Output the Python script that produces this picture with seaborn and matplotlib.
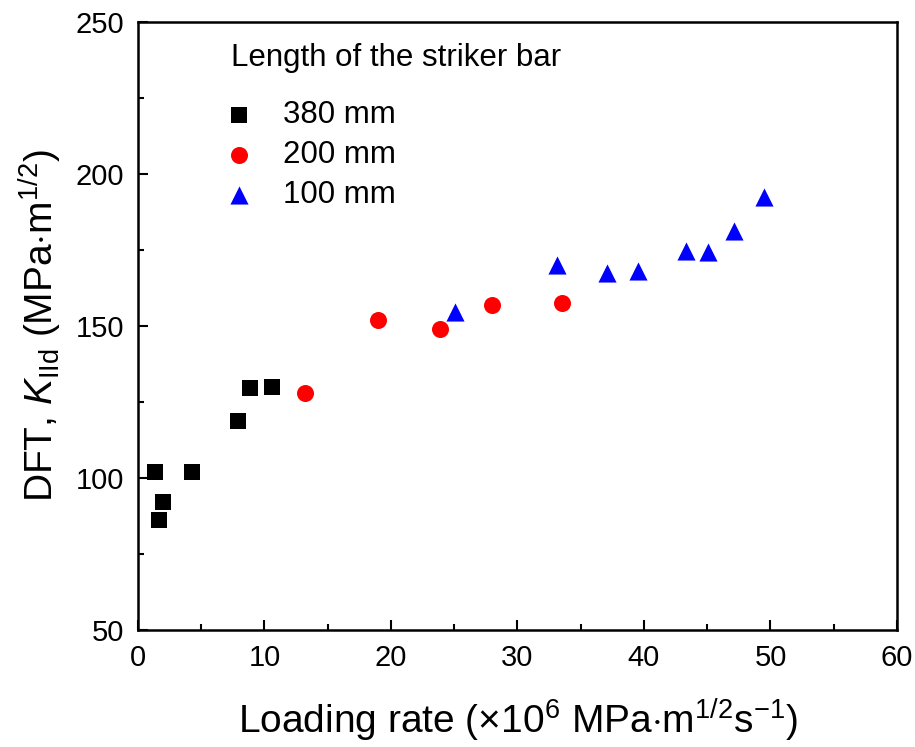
import matplotlib
matplotlib.use("Agg")
import matplotlib.pyplot as plt
from matplotlib.ticker import MultipleLocator
import seaborn as sns
import pandas as pd

# Data
x_380 = [1.35, 1.7, 2.0, 4.3, 7.9, 8.85, 10.6]
y_380 = [102.1, 86.2, 92.2, 102.1, 118.9, 129.6, 130.0]
x_200 = [13.2, 19.0, 23.9, 28.0, 33.5]
y_200 = [127.9, 151.9, 148.9, 156.8, 157.5]
x_100 = [25.1, 33.1, 37.1, 39.55, 43.3, 45.1, 47.1, 49.5]
y_100 = [154.5, 170.0, 167.3, 168.2, 174.8, 174.2, 181.2, 192.5]
labels = ["380 mm", "200 mm", "100 mm"]
legend_title = "Length of the striker bar"

df = pd.DataFrame({
    "x": x_380 + x_200 + x_100,
    "y": y_380 + y_200 + y_100,
    "group": [labels[0]] * len(x_380) + [labels[1]] * len(x_200) + [labels[2]] * len(x_100),
})

sns.set_theme(style="white")
plt.rcParams["font.family"] = ["Liberation Sans", "DejaVu Sans"]
plt.rcParams["mathtext.fontset"] = "custom"
plt.rcParams["mathtext.rm"] = "Liberation Sans"
plt.rcParams["mathtext.it"] = "Liberation Sans:italic"
plt.rcParams["mathtext.bf"] = "Liberation Sans:bold"
plt.rcParams["text.color"] = "black"
plt.rcParams["axes.labelcolor"] = "black"
plt.rcParams["xtick.color"] = "black"
plt.rcParams["ytick.color"] = "black"

fig = plt.figure(figsize=(9.15, 7.47), dpi=100)
ax = fig.add_axes([0.1508, 0.1566, 0.8295, 0.8139])

palette = {labels[0]: "#000000", labels[1]: "#ff0000", labels[2]: "#0000ff"}
markers = {labels[0]: "s", labels[1]: "o", labels[2]: "^"}
sizes_map = {labels[0]: 130, labels[1]: 150, labels[2]: 170}

for lab in labels:
    sub = df[df["group"] == lab]
    sns.scatterplot(data=sub, x="x", y="y", color=palette[lab], marker=markers[lab],
                    s=sizes_map[lab], linewidth=0, ax=ax, label=lab, zorder=3)

ax.set_xlim(0, 60)
ax.set_ylim(50, 250)
ax.xaxis.set_major_locator(MultipleLocator(10))
ax.xaxis.set_minor_locator(MultipleLocator(5))
ax.yaxis.set_major_locator(MultipleLocator(50))
ax.yaxis.set_minor_locator(MultipleLocator(25))
ax.tick_params(which="both", direction="in", top=False, right=False, bottom=True, left=True,
               width=1.5, colors="black")
ax.tick_params(which="major", length=7, labelsize=21, pad=10)
ax.tick_params(which="minor", length=4)
for sp in ax.spines.values():
    sp.set_linewidth(1.8)
    sp.set_color("black")

ax.set_xlabel(r"Loading rate ($\times$10$^{6}$ MPa$\cdot$m$^{1/2}$s$^{-1}$)", fontsize=28, labelpad=18)
ax.set_ylabel(r"DFT, $K$$_{\rm IId}$ (MPa$\cdot$m$^{1/2}$)", fontsize=28, labelpad=8)

leg = ax.legend(loc="upper left", bbox_to_anchor=(0.1125, 0.8717), frameon=False,
                fontsize=22.5, labelspacing=0.32, handlelength=1.0, handletextpad=0.9,
                borderpad=0, borderaxespad=0)
fig.text(231 / 915, 1 - 58 / 747, legend_title, fontsize=22.5, ha="left", va="center")

fig.savefig("out.png", dpi=100)
